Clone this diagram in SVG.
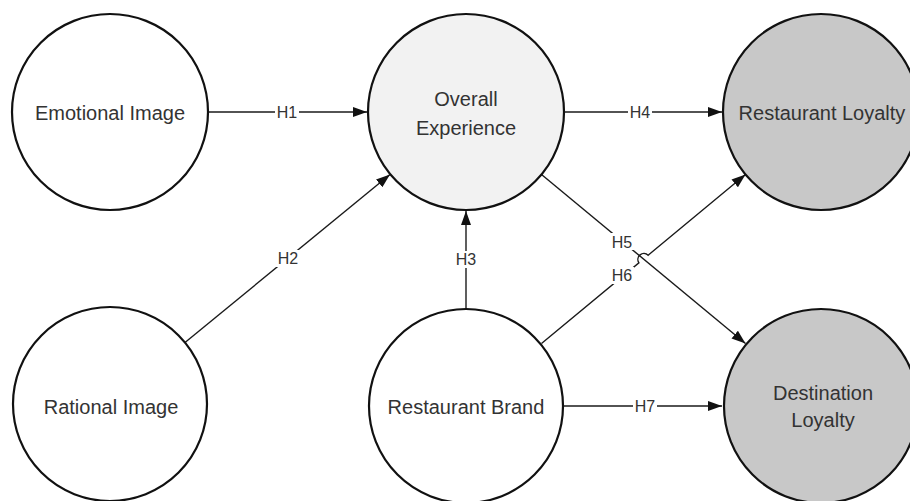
<svg xmlns="http://www.w3.org/2000/svg" width="910" height="501" viewBox="0 0 910 501">
<style>
.node{stroke:#111;stroke-width:2.2}
.white{fill:#fff}
.light{fill:#f2f2f2}
.gray{fill:#c8c8c8}
.nt{font-family:"Liberation Sans",Arial,sans-serif;font-size:20px;fill:#333;text-anchor:middle}
.edge{stroke:#1a1a1a;stroke-width:1.4;fill:none}
.lb{font-family:"Liberation Sans",Arial,sans-serif;font-size:16px;fill:#333;text-anchor:middle}
.lbg{fill:#fff}
</style>
<defs>
<marker id="arr" markerUnits="userSpaceOnUse" markerWidth="15" markerHeight="11" refX="14" refY="5.5" orient="auto">
<path d="M0,0.5 L14,5.5 L0,10.5 z" fill="#111"/>
</marker>
</defs>
<rect width="910" height="501" fill="#fff"/>
<g id="connectors">
<g id="e-h1"><line class="edge" x1="208" y1="112" x2="367" y2="112" marker-end="url(#arr)"/><rect class="lbg" x="275" y="104" width="24" height="16"/><text class="lb" x="287" y="118">H1</text></g>
<g id="e-h2"><line class="edge" x1="185" y1="342.5" x2="390" y2="174.5" marker-end="url(#arr)"/><rect class="lbg" x="276" y="250" width="24" height="17"/><text class="lb" x="288" y="264">H2</text></g>
<g id="e-h3"><line class="edge" x1="466" y1="308" x2="466" y2="211" marker-end="url(#arr)"/><rect class="lbg" x="454" y="251" width="24" height="17"/><text class="lb" x="466" y="265">H3</text></g>
<g id="e-h4"><line class="edge" x1="564" y1="112" x2="722" y2="112" marker-end="url(#arr)"/><rect class="lbg" x="628" y="104" width="24" height="16"/><text class="lb" x="640" y="118">H4</text></g>
<g id="e-h5"><line class="edge" x1="541.5" y1="174.5" x2="745.5" y2="343.5" marker-end="url(#arr)"/><rect class="lbg" x="610" y="233" width="24" height="17"/><text class="lb" x="622" y="248">H5</text></g>
<g id="e-h6"><path class="edge" d="M541.5,343.5 L638.9,262.8 A6,6 0 0 1 648.1,255.2 L745.5,174.5" marker-end="url(#arr)"/><rect class="lbg" x="610" y="267" width="24" height="17"/><text class="lb" x="622" y="281">H6</text></g>
<g id="e-h7"><line class="edge" x1="564" y1="406" x2="722" y2="406" marker-end="url(#arr)"/><rect class="lbg" x="633" y="398" width="24" height="16"/><text class="lb" x="645" y="412">H7</text></g>
</g>
<g id="n-emotional"><circle class="node white" cx="110" cy="112" r="98"/><text class="nt" x="110" y="120">Emotional Image</text></g>
<g id="n-overall"><circle class="node light" cx="466" cy="112" r="98"/><text class="nt" x="466" y="106">Overall</text><text class="nt" x="466" y="135">Experience</text></g>
<g id="n-restloyalty"><circle class="node gray" cx="821" cy="112" r="98"/><text class="nt" x="822" y="120">Restaurant Loyalty</text></g>
<g id="n-rational"><circle class="node white" cx="110" cy="404" r="97"/><text class="nt" x="111" y="414">Rational Image</text></g>
<g id="n-brand"><circle class="node white" cx="466" cy="406" r="97"/><text class="nt" x="466" y="414">Restaurant Brand</text></g>
<g id="n-destloyalty"><circle class="node gray" cx="821" cy="406" r="97"/><text class="nt" x="823" y="400">Destination</text><text class="nt" x="823" y="427">Loyalty</text></g>
</svg>
